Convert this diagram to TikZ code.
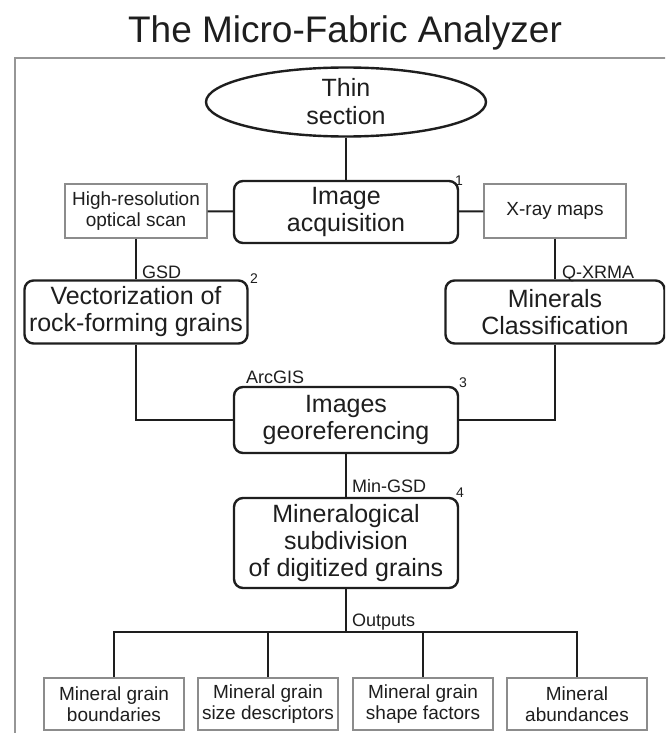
\documentclass[tikz,border=0pt]{standalone}
\usepackage{fontspec}
\setmainfont{Liberation Sans}
\usetikzlibrary{shapes.geometric}
\definecolor{txt}{RGB}{30,30,30}
\definecolor{boxgray}{RGB}{140,140,140}
\definecolor{framegray}{RGB}{150,150,150}
\tikzset{
  stage/.style={draw=txt, line width=2.4pt, rounded corners=9pt, minimum width=224pt, minimum height=62pt, inner sep=0pt, align=center, text=txt, font=\fontsize{25}{27}\selectfont},
  source/.style={draw=boxgray, line width=1.4pt, minimum width=142pt, minimum height=54pt, inner sep=0pt, align=center, text=txt, font=\fontsize{19}{21}\selectfont},
  tool/.style={anchor=base west, inner sep=0pt, text=txt, font=\fontsize{18}{20}\selectfont},
  stepno/.style={anchor=base west, inner sep=0pt, text=txt, font=\fontsize{14}{16}\selectfont},
  link/.style={draw=txt, line width=2pt}
}
\begin{document}
\begin{tikzpicture}[x=1pt,y=-1pt]
\useasboundingbox (0,0) rectangle (665,733);
\clip (0,0) rectangle (665,733);
\fill[white] (0,0) rectangle (665,733);
\draw[framegray, line width=1.8pt] (15,58) rectangle (700,770);

\node[anchor=base, inner sep=0pt, text=txt, font=\fontsize{37}{40}\selectfont] (title) at (345,43) {The Micro-Fabric Analyzer};

\node[ellipse, draw=txt, line width=2.4pt, minimum width=280pt, minimum height=69pt, inner sep=0pt, align=center, text=txt, font=\fontsize{25}{28}\selectfont] (thin) at (346,102) {Thin\\section};

\node[stage] (acq) at (346,212) {Image\\acquisition};
\node[stepno] (n1) at (455,185) {1};
\node[source] (scan) at (136,211) {High-resolution\\optical scan};
\node[source] (xray) at (555,211) {X-ray maps};

\draw[link] (thin) -- (acq);
\draw[link] (scan) -- (acq);
\draw[link] (xray) -- (acq);

\node[stage, minimum width=223pt, minimum height=63pt] (vec) at (136,312) {Vectorization of\\rock-forming grains};
\node[stepno] (n2) at (250,283) {2};
\node[tool] (gsd) at (142,278) {GSD};

\node[stage, minimum width=219pt, minimum height=63pt] (cls) at (555,312) {Minerals\\Classification};
\node[tool] (qxrma) at (562,278) {Q-XRMA};

\draw[link] (scan) -- (vec);
\draw[link] (xray) -- (cls);

\node[stage, minimum height=66pt] (geo) at (346,420) {Images\\georeferencing};
\node[stepno] (n3) at (459,387) {3};
\node[tool] (arcgis) at (246,383) {ArcGIS};

\draw[link] (vec) |- (geo);
\draw[link] (cls) |- (geo);

\node[stage, minimum height=90pt] (sub) at (346,543) {Mineralogical\\subdivision\\of digitized grains};
\node[stepno] (n4) at (456,497) {4};
\node[tool] (mingsd) at (352,492) {Min-GSD};

\draw[link] (geo) -- (sub);

\coordinate (hub) at (346,632);
\node[tool] (outputs) at (352,626) {Outputs};

\node[source, minimum width=140pt, minimum height=52pt] (out1) at (114,704) {Mineral grain\\boundaries};
\node[source, minimum width=140pt, minimum height=52pt] (out2) at (268,704) {Mineral grain\\size descriptors};
\node[source, minimum width=140pt, minimum height=52pt] (out3) at (423,704) {Mineral grain\\shape factors};
\node[source, minimum width=140pt, minimum height=52pt] (out4) at (577,704) {Mineral\\abundances};

\draw[link] (sub) -- (hub);
\draw[link] (hub) -| (out1);
\draw[link] (hub) -| (out2);
\draw[link] (hub) -| (out3);
\draw[link] (hub) -| (out4);

\end{tikzpicture}
\end{document}
